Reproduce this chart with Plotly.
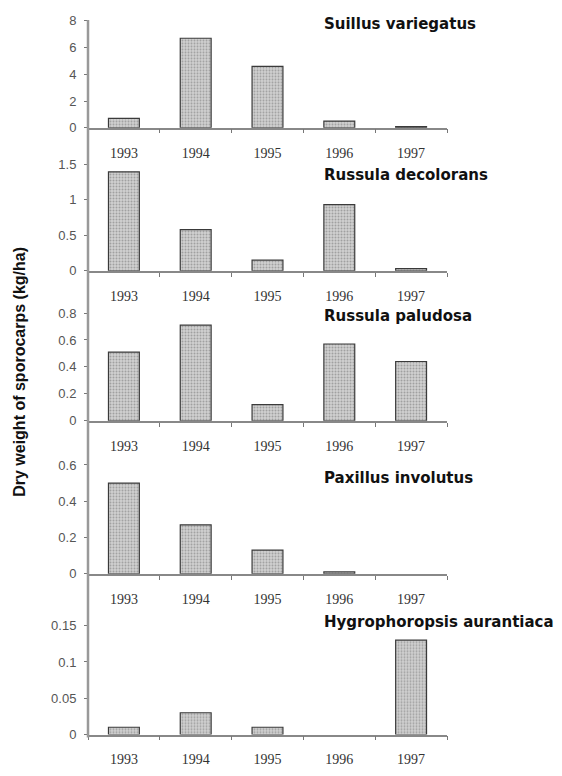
import plotly.graph_objects as go

years = ["1993", "1994", "1995", "1996", "1997"]
species = ["Suillus variegatus", "Russula decolorans", "Russula paludosa",
           "Paxillus involutus", "Hygrophoropsis aurantiaca"]
suillus = [0.7, 6.7, 4.6, 0.5, 0.08]
decolorans = [1.39, 0.58, 0.15, 0.93, 0.03]
paludosa = [0.51, 0.71, 0.12, 0.57, 0.44]
paxillus = [0.50, 0.27, 0.13, 0.01, None]
hygro = [0.01, 0.03, 0.01, None, 0.13]
series = [suillus, decolorans, paludosa, paxillus, hygro]

y_ranges = [[0, 8], [0, 1.5], [0, 0.8], [0, 0.6], [0, 0.15]]
y_dticks = [2, 0.5, 0.2, 0.2, 0.05]

# page has an 8px body margin; figure sized to fill the window inside it
PAGE_MARGIN = 8
W, H = 562 - 2 * PAGE_MARGIN, 776 - 2 * PAGE_MARGIN


def px_x(px):
    return (px - PAGE_MARGIN) / W


def px_y(py):
    v = 1 - (py - PAGE_MARGIN) / H
    return min(1.0, max(0.0, v))


# target pixel positions (top-of-range, zero) for each panel
panel_px = [(14, 123), (160, 269), (312, 422), (467, 578), (631, 742)]
title_px = [17, 171, 315, 480, 627]
standoffs = [12, 12, 12, 12, 11]
x0_px, x1_px = 88, 447

fig = go.Figure()
for i, vals in enumerate(series):
    n = i + 1
    fig.add_trace(go.Bar(
        x=years, y=vals, xaxis=f"x{n}", yaxis=f"y{n}", width=0.43,
        marker=dict(color="#d0d0d0",
                    line=dict(color="#3a3a3a", width=1.2),
                    pattern=dict(shape=".", fgcolor="#707070", bgcolor="#d0d0d0",
                                 size=3, solidity=0.35)),
        showlegend=False, hoverinfo="x+y"))
    top, zero = panel_px[i]
    dom = [px_y(zero), px_y(top)]
    xkey = "xaxis" if n == 1 else f"xaxis{n}"
    ykey = "yaxis" if n == 1 else f"yaxis{n}"
    fig.update_layout(**{
        xkey: dict(domain=[px_x(x0_px), px_x(x1_px)], anchor=f"y{n}",
                   type="category", range=[-0.5, 4.5], tickson="boundaries",
                   ticks="outside", ticklen=4, tickcolor="#777", tickwidth=1,
                   showline=True, linecolor="#888", linewidth=1.5,
                   showgrid=False, zeroline=False, ticklabelstandoff=standoffs[i],
                   tickfont=dict(family="Liberation Serif", size=14, color="#333")),
        ykey: dict(domain=dom, anchor=f"x{n}", range=y_ranges[i],
                   dtick=y_dticks[i], tick0=0, ticks="outside", ticklen=3,
                   tickcolor="#777", showline=False, showgrid=False,
                   zeroline=False, ticklabelstandoff=5,
                   tickfont=dict(family="Liberation Sans", size=13, color="#555")),
    })
    fig.add_annotation(x=px_x(322), y=px_y(title_px[i]), xref="paper", yref="paper",
                       text=f"<b>{species[i]}</b>", showarrow=False,
                       xanchor="left", yanchor="middle",
                       font=dict(family="DejaVu Sans", size=15, color="#111"))

# continuous vertical axis line
fig.add_shape(type="line", xref="paper", yref="paper",
              x0=px_x(x0_px), x1=px_x(x0_px), y0=px_y(745), y1=px_y(13),
              line=dict(color="#999", width=2.5))

fig.add_annotation(x=px_x(20), y=px_y(372), xref="paper", yref="paper",
                   text="<b>Dry weight of sporocarps (kg/ha)</b>", showarrow=False,
                   textangle=-90, xanchor="center", yanchor="middle",
                   font=dict(family="Liberation Sans", size=16, color="#111"))

fig.update_layout(width=W, height=H, margin=dict(l=0, r=0, t=0, b=0),
                  plot_bgcolor="white", paper_bgcolor="white")
fig.write_html("out.html")
